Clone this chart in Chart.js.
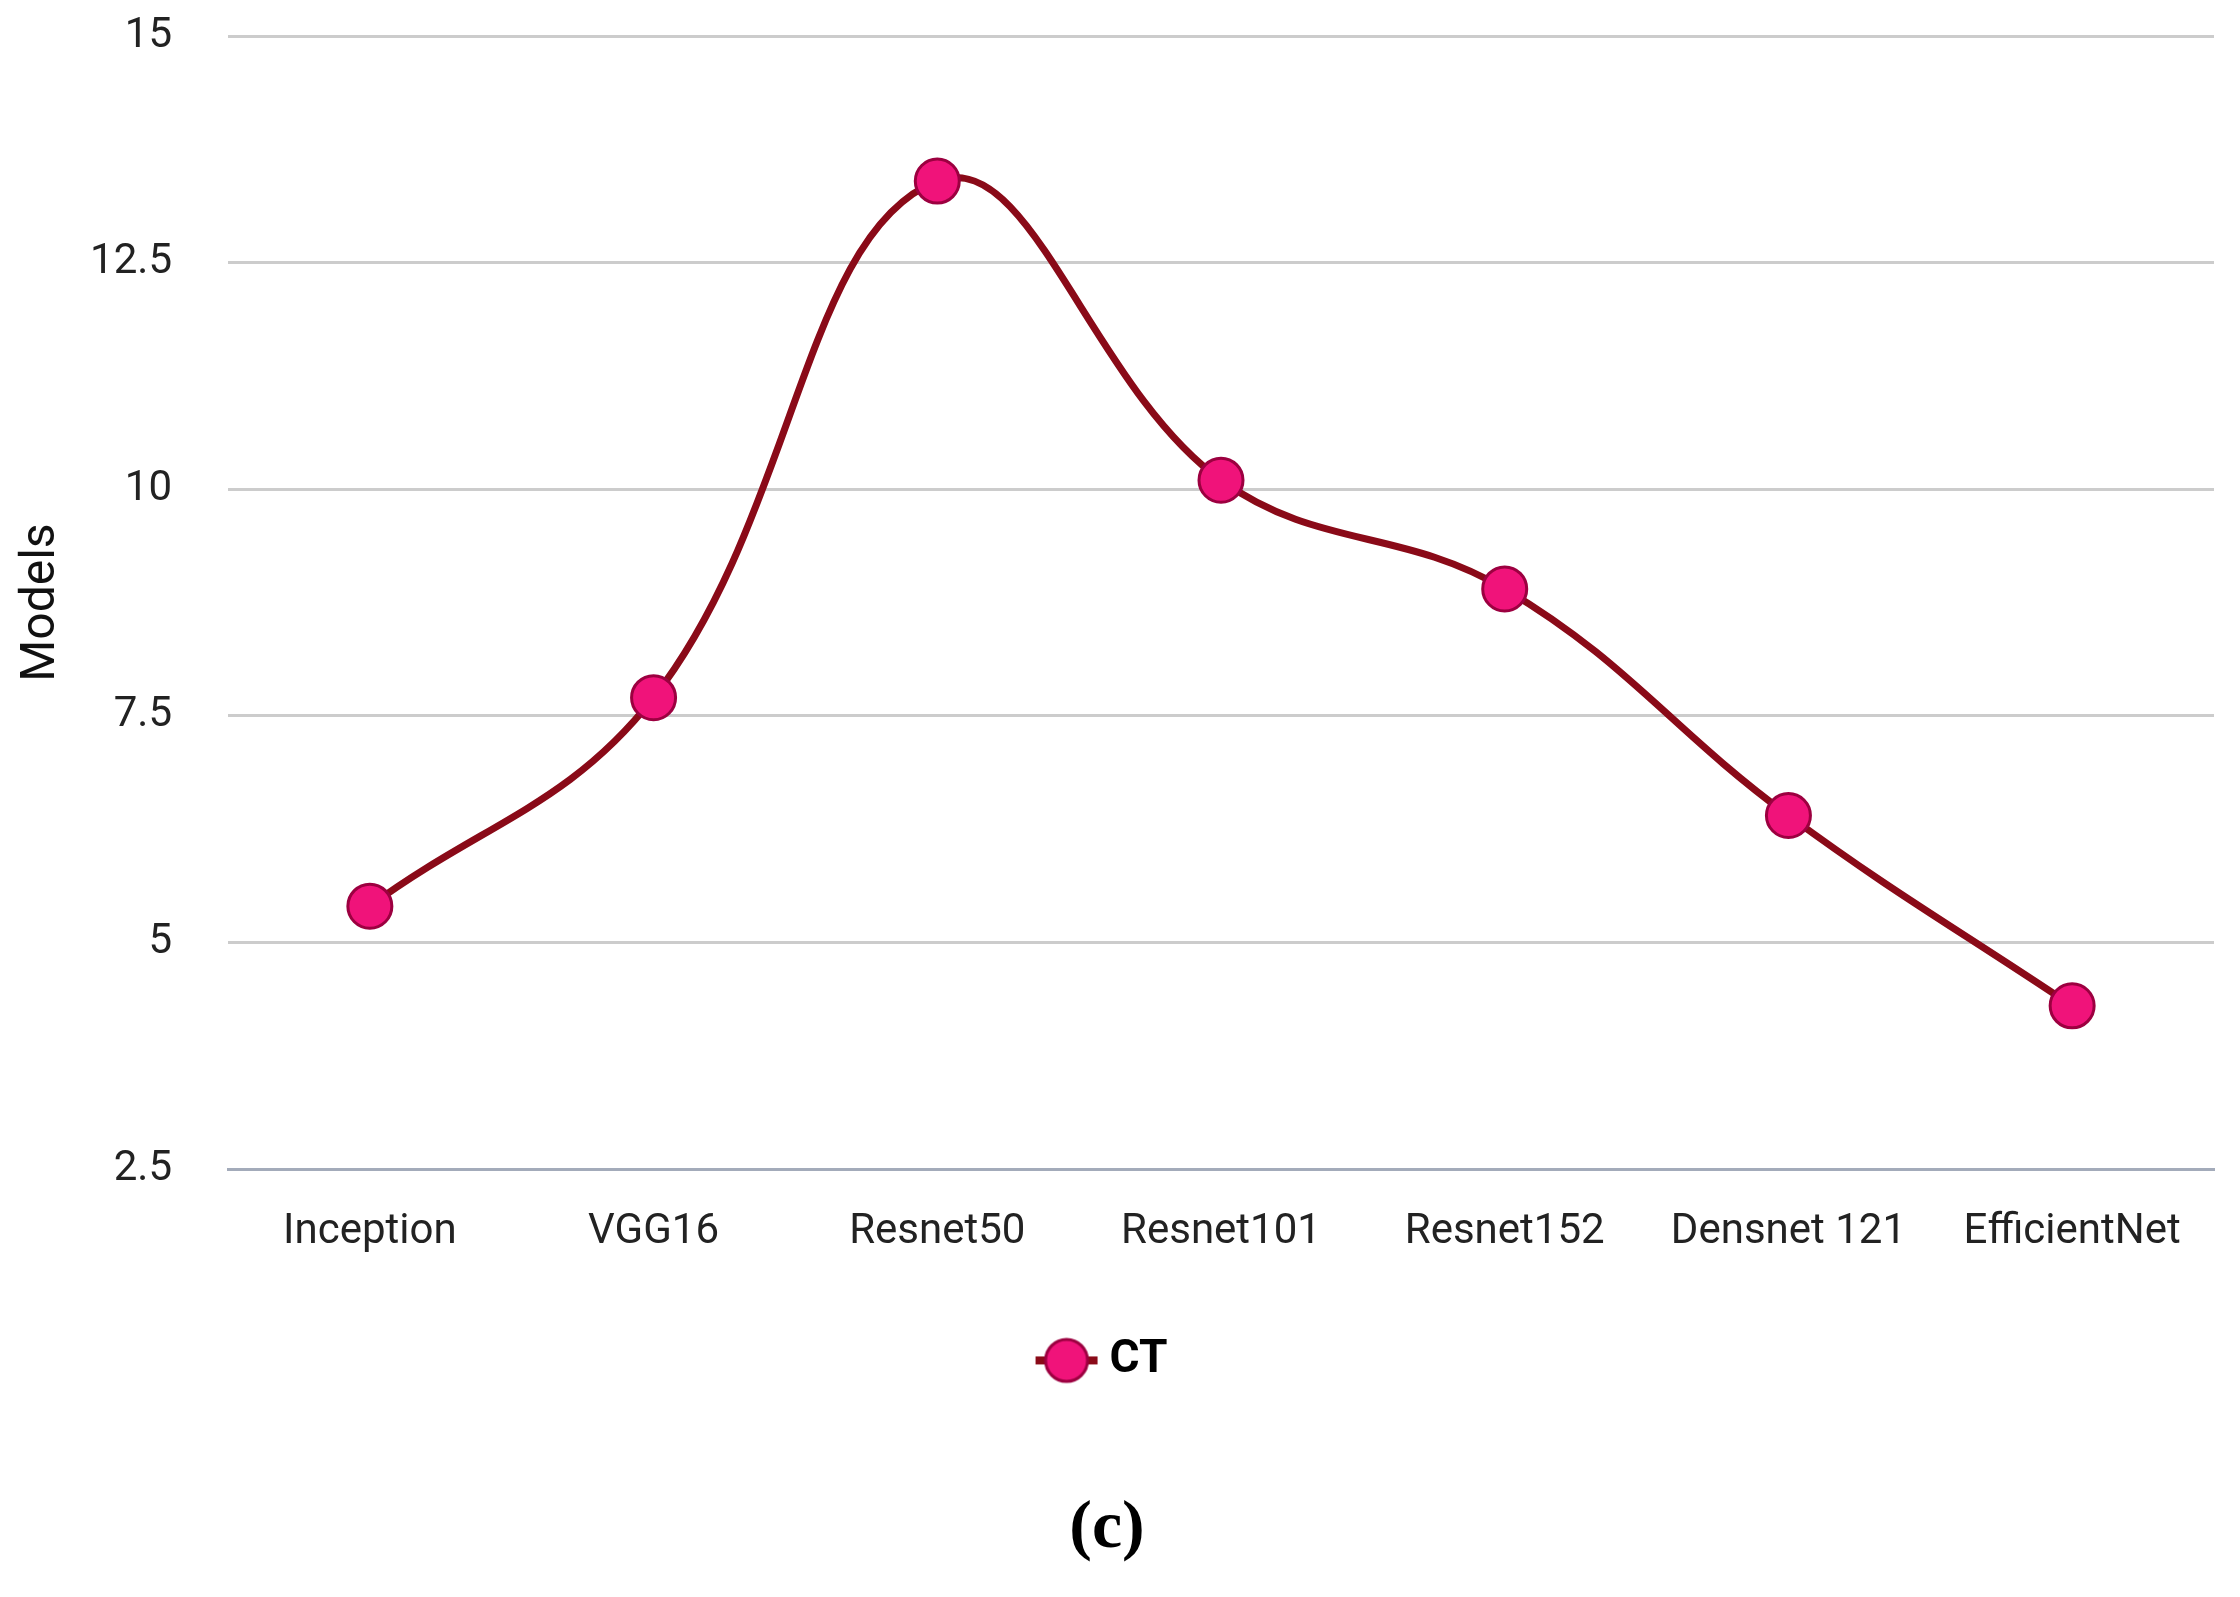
<!DOCTYPE html>
<html>
<head>
<meta charset="utf-8">
<script src="https://cdn.jsdelivr.net/npm/chart.js@4.4.1/dist/chart.umd.min.js"></script>
<style>
  html, body { margin: 0; padding: 0; background: #fff; }
  #wrap { width: 2240px; height: 1597px; position: relative; }
</style>
</head>
<body>
<div id="wrap"><canvas id="ctChart"></canvas></div>
<script>
// data
const models = ['Inception', 'VGG16', 'Resnet50', 'Resnet101', 'Resnet152', 'Densnet 121', 'EfficientNet'];
const ctValues = [5.4, 7.7, 13.4, 10.1, 8.9, 6.4, 4.3];
const yTicks = [2.5, 5, 7.5, 10, 12.5, 15];

const lineColor = '#8a0a18';
const pointFill = '#f0137a';
const pointEdge = '#9c0040';

// legend marker: short line with a dot on it
function legendMarker() {
    const c = document.createElement('canvas');
    c.width = 64; c.height = 48;
    const g = c.getContext('2d');
    g.strokeStyle = lineColor;
    g.lineWidth = 8;
    g.beginPath(); g.moveTo(1, 24); g.lineTo(63, 24); g.stroke();
    g.fillStyle = pointFill;
    g.strokeStyle = pointEdge;
    g.lineWidth = 3;
    g.beginPath(); g.arc(32, 24, 21, 0, Math.PI * 2); g.fill(); g.stroke();
    return c;
}

document.addEventListener('DOMContentLoaded', function() {
    const ctx = document.getElementById('ctChart').getContext('2d');
    const marker = legendMarker();

    new Chart(ctx, {
        type: 'line',
        data: {
            labels: models,
            datasets: [{
                label: 'CT',
                data: ctValues,
                borderColor: lineColor,
                borderWidth: 7,
                tension: 0.4,
                pointRadius: 22,
                pointBackgroundColor: pointFill,
                pointBorderColor: pointEdge,
                pointBorderWidth: 3,
                fill: false,
                clip: false
            }]
        },
        options: {
            responsive: true,
            maintainAspectRatio: false,
            animation: false,
            layout: { autoPadding: false, padding: { top: 36, right: 26, left: 0, bottom: 0 } },
            scales: {
                x: {
                    offset: true,
                    grid: { display: false, drawTicks: false },
                    border: { display: true, color: '#a3abba', width: 3 },
                    ticks: {
                        color: '#222',
                        padding: 38,
                        font: { family: 'Roboto', size: 42 }
                    }
                },
                y: {
                    min: 2.5,
                    max: 15,
                    afterBuildTicks: function(axis) {
                        axis.ticks = yTicks.map(v => ({ value: v }));
                    },
                    afterFit: function(axis) {
                        // let the top label hang into the layout padding, fix the axis width
                        axis.paddingTop = 0;
                        axis.width = 228;
                    },
                    grid: { color: '#cccccc', lineWidth: 3, drawTicks: false },
                    border: { display: false },
                    ticks: {
                        color: '#222',
                        padding: 56,
                        font: { family: 'Roboto', size: 42 }
                    },
                    title: {
                        display: true,
                        text: 'Models',
                        color: '#111',
                        font: { family: 'Roboto', size: 48, lineHeight: 1.0 },
                        padding: { top: 18, bottom: 24 }
                    }
                }
            },
            plugins: {
                legend: {
                    position: 'bottom',
                    labels: {
                        usePointStyle: true,
                        padding: 42,
                        color: '#000',
                        font: { family: 'Roboto', size: 46, weight: 'bold' },
                        generateLabels: function(chart) {
                            return chart.data.datasets.map((ds, i) => ({
                                text: ds.label,
                                pointStyle: marker,
                                fillStyle: pointFill,
                                strokeStyle: lineColor,
                                lineWidth: 0,
                                fontColor: '#000',
                                datasetIndex: i
                            }));
                        }
                    }
                },
                title: {
                    display: true,
                    position: 'bottom',
                    text: '(c)',
                    color: '#000',
                    font: { family: 'Liberation Serif', size: 68, weight: 'bold' },
                    padding: { top: 95, bottom: 27 }
                },
                tooltip: { enabled: false }
            }
        }
    });
});
</script>
</body>
</html>
